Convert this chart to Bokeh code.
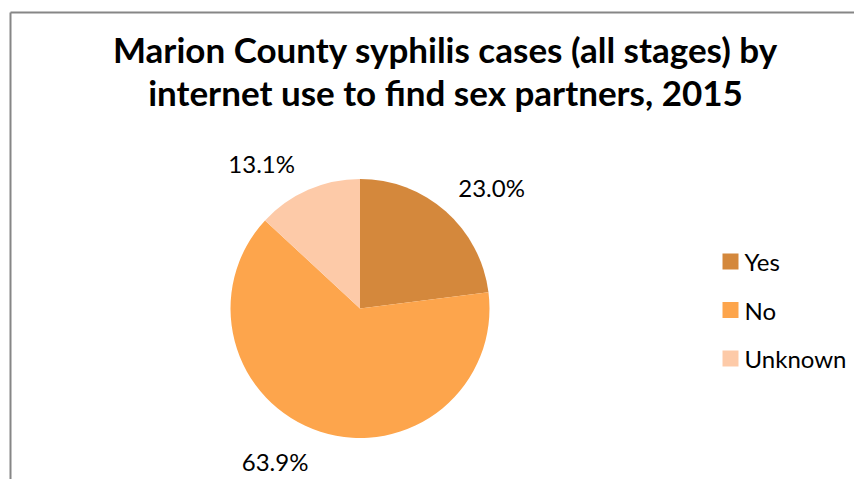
import math
from bokeh.plotting import figure
from bokeh.models import ColumnDataSource
from bokeh.core.properties import value
from bokeh.embed import file_html
from bokeh.resources import INLINE

# ---- data ----
categories = ["Yes", "No", "Unknown"]
percents = [23.0, 63.9, 13.1]
label_texts = ["23.0%", "63.9%", "13.1%"]
colors = ["#D4883C", "#FDA54C", "#FDCAA8"]
title_lines = ["Marion County syphilis cases (all stages) by",
               "internet use to find sex partners, 2015"]

W, H = 854, 479
FONT = "Lato"

p = figure(width=W, height=H, x_range=(0, W), y_range=(0, H),
           output_backend="svg", toolbar_location=None, min_border=0)
p.axis.visible = False
p.grid.visible = False
p.outline_line_color = None
p.background_fill_color = "white"

# chart frame (left and top edges visible)
p.segment(x0=[10, 10], y0=[0, H - 12], x1=[10, W], y1=[H - 12, H - 12],
          line_color="#868686", line_width=2)

# pie: clockwise from 12 o'clock
cx, cy, r = 359.5, H - 308.0, 129.5
total = sum(percents)
starts, ends, mids = [], [], []
acc = 0.0
for v in percents:
    a0 = math.pi / 2 - 2 * math.pi * acc / total
    acc += v
    a1 = math.pi / 2 - 2 * math.pi * acc / total
    starts.append(a1)
    ends.append(a0)
    mids.append((a0 + a1) / 2)

src = ColumnDataSource(dict(start=starts, end=ends, color=colors, cat=categories))
p.wedge(x=cx, y=cy, radius=r, start_angle="start", end_angle="end",
        fill_color="color", line_color=None, source=src)

# data labels (outside end)
gap = 13
lx, ly, la, lb = [], [], [], []
for m in mids:
    c, s = math.cos(m), math.sin(m)
    lx.append(cx + (r + gap) * c + (4 if c > 0 else -8))
    ly.append(cy + (r + gap) * s + (0 if s > 0 else -3))
    la.append("left" if c > 0 else "right")
    lb.append("bottom" if s > 0 else "top")
lsrc = ColumnDataSource(dict(x=lx, y=ly, t=label_texts, a=la, b=lb))
p.text(x="x", y="y", text="t", text_align="a", text_baseline="b", source=lsrc,
       text_font=value(FONT), text_font_size="24px", text_color="#000000")

# legend (manual)
leg_x, leg_y0, leg_step, sq = 722, H - 261, 48.5, 16
ly2 = [leg_y0 - i * leg_step for i in range(len(categories))]
p.rect(x=[leg_x + sq / 2] * 3, y=ly2, width=sq, height=sq,
       fill_color=colors, line_color=None)
p.text(x=[leg_x + sq + 6] * 3, y=ly2, text=categories, text_baseline="middle",
       text_align="left", text_font=value(FONT), text_font_size="24px",
       text_color="#000000")

# title
ty = [H - 48 - i * 43 for i in range(len(title_lines))]
p.text(x=[445] * len(title_lines), y=ty, text=title_lines, text_align="center",
       text_baseline="alphabetic", text_font=value(FONT),
       text_font_style="bold", text_font_size="35px", text_color="#000000")

open("out.html", "w").write(file_html(p, INLINE))
